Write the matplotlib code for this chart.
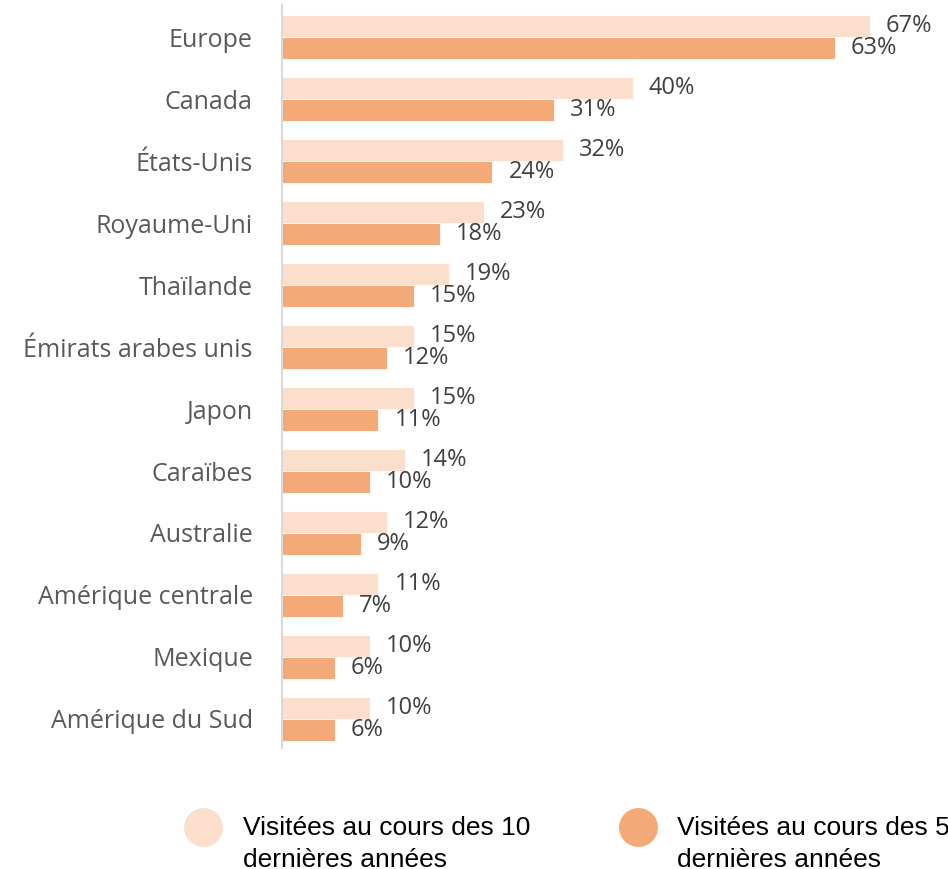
import numpy as np
import matplotlib
matplotlib.use("Agg")
import matplotlib.pyplot as plt
from matplotlib.lines import Line2D

# données
pays = ["Europe", "Canada", "États-Unis", "Royaume-Uni", "Thaïlande",
        "Émirats arabes unis", "Japon", "Caraïbes", "Australie",
        "Amérique centrale", "Mexique", "Amérique du Sud"]
visite_10ans = [67, 40, 32, 23, 19, 15, 15, 14, 12, 11, 10, 10]
visite_5ans = [63, 31, 24, 18, 15, 12, 11, 10, 9, 7, 6, 6]

legende = ["Visitées au cours des 10\ndernières années",
           "Visitées au cours des 5\ndernières années"]

CLAIR = "#FBDFCC"
FONCE = "#F4AA78"
GRIS_TXT = "#595959"
GRIS_VAL = "#404040"

W, H = 948, 869
fig = plt.figure(figsize=(W / 100, H / 100), dpi=100)
ax = fig.add_axes([282 / W, 1 - 748 / H, 1 - 282 / W, (748 - 5) / H])

y = np.arange(len(pays))
h = 0.355
ax.barh(y - h / 2, visite_10ans, height=h, color=CLAIR,
        edgecolor="white", linewidth=0.6)
ax.barh(y + h / 2, visite_5ans, height=h, color=FONCE,
        edgecolor="white", linewidth=0.6)

# étiquettes de valeurs
for yi, v in zip(y, visite_10ans):
    ax.annotate(f"{v}%", (v, yi - h / 2), xytext=(11.5, 0),
                textcoords="offset points", va="center", ha="left",
                fontsize=17, color=GRIS_VAL, family="Open Sans")
for yi, v in zip(y, visite_5ans):
    ax.annotate(f"{v}%", (v, yi + h / 2), xytext=(11.5, 0),
                textcoords="offset points", va="center", ha="left",
                fontsize=17, color=GRIS_VAL, family="Open Sans")

ax.set_xlim(0, 666 / 8.77)
ax.set_ylim(11.47, -0.52)
ax.set_yticks(y)
ax.set_yticklabels(pays, fontsize=18, color=GRIS_TXT, family="Open Sans")
ax.tick_params(axis="y", length=0, pad=21)
ax.set_xticks([])
for s in ["top", "right", "bottom"]:
    ax.spines[s].set_visible(False)
ax.spines["left"].set_color("#D9D9D9")
ax.spines["left"].set_linewidth(1.5)

# légende dessinée à la main (cercles + texte sur deux lignes)
for xc, xt, col, lab in [(203, 243, CLAIR, legende[0]),
                         (638, 677, FONCE, legende[1])]:
    fig.add_artist(Line2D([xc / W], [1 - 827 / H], marker="o",
                          markersize=27, color=col, linestyle="none",
                          transform=fig.transFigure))
    fig.text(xt / W, 1 - 816 / H, lab, ha="left", va="top",
             fontsize=19, family="Liberation Sans", color="black",
             linespacing=1.42)

fig.savefig("out.png", dpi=100)
